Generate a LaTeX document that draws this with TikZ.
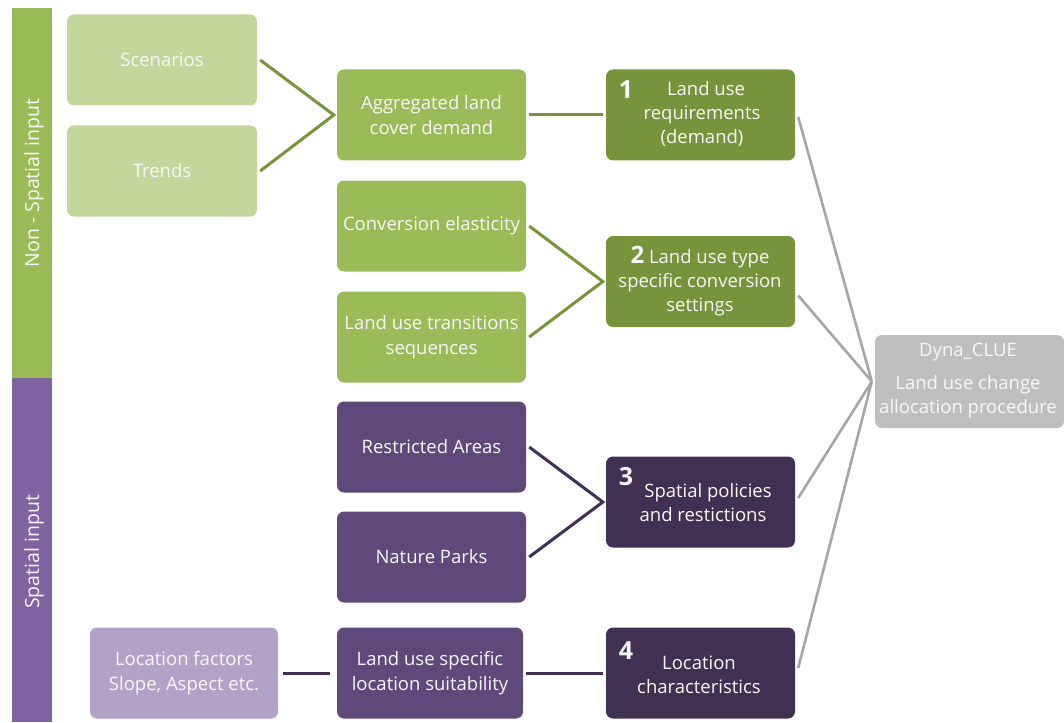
\documentclass[tikz,border=0pt]{standalone}
\usepackage{fontspec}
\setmainfont{Open Sans}
\usetikzlibrary{calc}
\definecolor{gbar}{HTML}{9BBB59}
\definecolor{pbar}{HTML}{8064A2}
\definecolor{glight}{HTML}{C3D69B}
\definecolor{gmid}{HTML}{9BBB59}
\definecolor{gdark}{HTML}{77933C}
\definecolor{plight}{HTML}{B3A2C7}
\definecolor{pmid}{HTML}{5F497A}
\definecolor{pdark}{HTML}{403152}
\definecolor{dyna}{HTML}{BFBFBF}
\definecolor{gline}{HTML}{A6A6A6}
\definecolor{txt}{HTML}{F7F7F7}
\begin{document}
\begin{tikzpicture}[x=1pt,y=-1pt,
  box/.style={rounded corners=7pt, minimum width=190pt, minimum height=91pt, inner sep=0pt,
    text=txt, align=center, font=\fontsize{18.5}{24.5}\selectfont},
  num/.style={text=txt, font=\bfseries\fontsize{25}{25}\selectfont, inner sep=0pt},
  lbl/.style={text=txt, align=center, font=\fontsize{18.5}{24}\selectfont, inner sep=0pt},
  side/.style={rotate=90, text=txt, font=\fontsize{19.5}{22}\selectfont},
  gconn/.style={draw=gdark, line width=3pt},
  pconn/.style={draw=pdark, line width=3pt},
  grayconn/.style={draw=gline, line width=2.6pt}]
\useasboundingbox (0,0) rectangle (1064,722);
% side bars
\fill[gbar] (12,8) rectangle (52,378);
\fill[pbar] (12,378) rectangle (52,722);
\node[side] (nsp) at (34,183) {Non - Spatial input};
\node[side] (sp) at (34,552) {Spatial input};
% boxes
\node[box, fill=glight] (scen) at (162,60) {Scenarios};
\node[box, fill=glight] (trends) at (162,171) {Trends};
\node[box, fill=gmid, minimum width=189pt] (agg) at (431.5,115) {Aggregated land\\cover demand};
\node[box, fill=gmid, minimum width=189pt] (conv) at (431.5,226) {Conversion elasticity};
\node[box, fill=gmid, minimum width=189pt] (trans) at (431.5,337) {Land use transitions\\sequences};
\node[box, fill=pmid, minimum width=189pt] (restr) at (431.5,447) {Restricted Areas};
\node[box, fill=pmid, minimum width=189pt] (parks) at (431.5,557) {Nature Parks};
\node[box, fill=pmid, minimum width=186pt] (suit) at (430,673) {Land use specific\\location suitability};
\node[box, fill=plight, minimum width=188pt] (locf) at (184,673) {Location factors\\Slope, Aspect etc.};
\node[box, fill=gdark, minimum width=189pt] (r1) at (700.5,115) {};
\node[box, fill=gdark, minimum width=189pt] (r2) at (700.5,281.5) {};
\node[box, fill=pdark, minimum width=189pt] (r3) at (700.5,502) {};
\node[box, fill=pdark, minimum width=189pt] (r4) at (700.5,673) {};
\node[box, fill=dyna, minimum width=189pt, minimum height=93pt] (dy) at (969.5,381.5) {};
% texts in numbered boxes
\node[num] (n1) at (626,90) {1};
\node[lbl] (t1) at (702,114) {\hspace*{8pt}Land use\\requirements\\(demand)};
\node[lbl] (t2) at (700,281) {{\bfseries\fontsize{24}{24}\selectfont 2} Land use type\\specific conversion\\settings};
\node[num] (n3) at (626,477) {3};
\node[lbl] (t3) at (703,502.5) {\hspace*{10pt}Spatial policies\\and restictions};
\node[num] (n4) at (626,651) {4};
\node[lbl] (t4) at (699,675) {Location\\characteristics};
\node[lbl] (td) at (968,381) {Dyna\_CLUE\\[9pt]Land use change\\allocation procedure};
% connectors
\coordinate (j1) at ($(agg.west)+(-3,0)$);
\draw[gconn] ($(scen.east)+(3,0)$) -- (j1) -- ($(trends.east)+(3,0)$);
\draw[gconn] ($(agg.east)+(3,0)$) -- ($(r1.west)+(-3,0)$);
\draw[gconn] ($(conv.east)+(3,0)$) -- ($(r2.west)+(-3,0)$) -- ($(trans.east)+(3,0)$);
\draw[pconn] ($(restr.east)+(3,0)$) -- ($(r3.west)+(-3,0)$) -- ($(parks.east)+(3,0)$);
\draw[pconn] ($(locf.east)+(5,0)$) -- ($(suit.west)+(-7,0)$);
\draw[pconn] ($(suit.east)+(3,0)$) -- ($(r4.west)+(-3,0)$);
\draw[grayconn] ($(r1.east)+(3,2)$) -- ($(dy.west)+(-3,0)$);
\draw[grayconn] ($(r2.east)+(3,14)$) -- ($(dy.west)+(-3,0)$);
\draw[grayconn] ($(r3.east)+(3,-4)$) -- ($(dy.west)+(-3,0)$);
\draw[grayconn] ($(r4.east)+(3,-5)$) -- ($(dy.west)+(-3,0)$);
\end{tikzpicture}
\end{document}
